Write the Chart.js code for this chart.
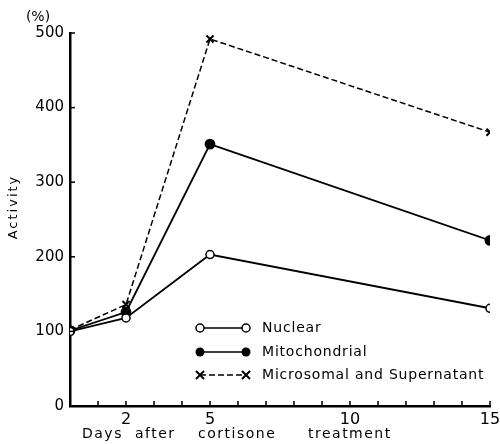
<!DOCTYPE html>
<html>
<head>
<meta charset="utf-8">
<script src="https://cdn.jsdelivr.net/npm/chart.js@4/dist/chart.umd.min.js"></script>
<style>
  body { margin: 0; background: #fff; }
  canvas { display: block; }
</style>
</head>
<body>
<canvas id="chart" width="500" height="444"></canvas>
<script>
// days after cortisone treatment, activity in %
let days = [0, 2, 5, 15];
let nuclear = [100, 118, 203, 131];
let mitochondrial = [101, 126, 351, 222];
let microsomal = [102, 136, 492, 367];
let xTickLabels = [2, 5, 10, 15];
let seriesNames = ["Nuclear", "Mitochondrial", "Microsomal and Supernatant"];

const FONT = "'DejaVu Sans', sans-serif";

function pts(vals) {
    return days.map((d, i) => ({ x: d, y: vals[i] }));
}

function drawMarker(ctx, style, x, y) {
    ctx.save();
    ctx.lineWidth = 1.5;
    ctx.strokeStyle = "#000";
    if (style === "open") {
        ctx.fillStyle = "#fff";
        ctx.beginPath(); ctx.arc(x, y, 4, 0, Math.PI * 2); ctx.fill(); ctx.stroke();
    } else if (style === "filled") {
        ctx.fillStyle = "#000";
        ctx.beginPath(); ctx.arc(x, y, 4.5, 0, Math.PI * 2); ctx.fill();
    } else {
        ctx.lineWidth = 2;
        ctx.beginPath();
        ctx.moveTo(x - 4, y - 4); ctx.lineTo(x + 4, y + 4);
        ctx.moveTo(x + 4, y - 4); ctx.lineTo(x - 4, y + 4);
        ctx.stroke();
    }
    ctx.restore();
}

// inward ticks on both axes, titles, legend
const extras = {
    id: "extras",
    afterDraw(chart) {
        let ctx = chart.ctx;
        let xs = chart.scales.x;
        let ys = chart.scales.y;
        let area = chart.chartArea;
        ctx.save();
        ctx.strokeStyle = "#000";
        ctx.lineWidth = 1.5;
        xs.ticks.forEach((t, i) => {
            if (t.value === 0) return;
            let px = xs.getPixelForTick(i);
            ctx.beginPath();
            ctx.moveTo(px, area.bottom);
            ctx.lineTo(px, area.bottom - 5);
            ctx.stroke();
        });
        ys.ticks.forEach((t, i) => {
            if (t.value === 0) return;
            let py = ys.getPixelForTick(i);
            ctx.beginPath();
            ctx.moveTo(area.left, py);
            ctx.lineTo(area.left + 5, py);
            ctx.stroke();
        });

        ctx.fillStyle = "#000";
        ctx.font = "14px " + FONT;
        ctx.textAlign = "center";
        ctx.textBaseline = "middle";
        ctx.fillText("(%)", 38, 17);

        // y title
        ctx.save();
        ctx.translate(14, 207);
        ctx.rotate(-Math.PI / 2);
        ctx.letterSpacing = "2px";
        ctx.font = "13px " + FONT;
        ctx.fillText("Activity", 0, 0);
        ctx.restore();

        // x title, words spread out as in the original
        ctx.font = "14px " + FONT;
        ctx.letterSpacing = "1.5px";
        ctx.textAlign = "left";
        [["Days", 82], ["after", 135], ["cortisone", 198], ["treatment", 308]].forEach(w => {
            ctx.fillText(w[0], w[1], 434);
        });

        // legend
        let styles = ["open", "filled", "cross"];
        let rows = [328, 352, 375];
        ctx.font = "14px " + FONT;
        ctx.letterSpacing = "0.8px";
        chart.data.datasets.forEach((ds, i) => {
            let y = rows[i];
            ctx.save();
            ctx.lineWidth = 1.5;
            ctx.setLineDash(ds.borderDash || []);
            ctx.beginPath();
            ctx.moveTo(200, y);
            ctx.lineTo(246, y);
            ctx.stroke();
            ctx.restore();
            drawMarker(ctx, styles[i], 200, y);
            drawMarker(ctx, styles[i], 246, y);
            ctx.fillText(ds.label, 262, y);
        });
        ctx.restore();
    }
};

new Chart(document.getElementById("chart"), {
    type: "line",
    data: {
        datasets: [
            {
                label: seriesNames[0],
                data: pts(nuclear),
                borderColor: "#000",
                borderWidth: 1.8,
                pointStyle: "circle",
                pointRadius: 4,
                pointBackgroundColor: "#fff",
                pointBorderColor: "#000",
                pointBorderWidth: 1.5
            },
            {
                label: seriesNames[1],
                data: pts(mitochondrial),
                borderColor: "#000",
                borderWidth: 1.8,
                pointStyle: "circle",
                pointRadius: 4.5,
                pointBackgroundColor: "#000",
                pointBorderColor: "#000"
            },
            {
                label: seriesNames[2],
                data: pts(microsomal),
                borderColor: "#000",
                borderWidth: 1.5,
                borderDash: [6, 3],
                pointStyle: "crossRot",
                pointRadius: 5,
                pointBorderColor: "#000",
                pointBorderWidth: 2
            }
        ]
    },
    options: {
        responsive: false,
        animation: false,
        layout: { padding: { top: 33, right: 10 } },
        plugins: {
            legend: { display: false },
            tooltip: { enabled: false }
        },
        scales: {
            x: {
                type: "linear",
                min: 0,
                max: 15,
                afterFit(s) { s.height = 38; s.paddingLeft = 0; s.paddingRight = 0; },
                border: { color: "#000", width: 2.5 },
                grid: { display: false, drawTicks: false },
                ticks: {
                    stepSize: 1,
                    autoSkip: false,
                    maxRotation: 0,
                    padding: 4,
                    color: "#000",
                    font: { family: FONT, size: 16 },
                    callback: v => xTickLabels.includes(v) ? String(v) : ""
                }
            },
            y: {
                min: 0,
                max: 500,
                afterFit(s) { s.width = 70; },
                border: { color: "#000", width: 2.5 },
                grid: { display: false, drawTicks: false },
                ticks: {
                    stepSize: 100,
                    padding: 6,
                    color: "#000",
                    font: { family: FONT, size: 15 }
                }
            }
        }
    },
    plugins: [extras]
});
</script>
</body>
</html>
